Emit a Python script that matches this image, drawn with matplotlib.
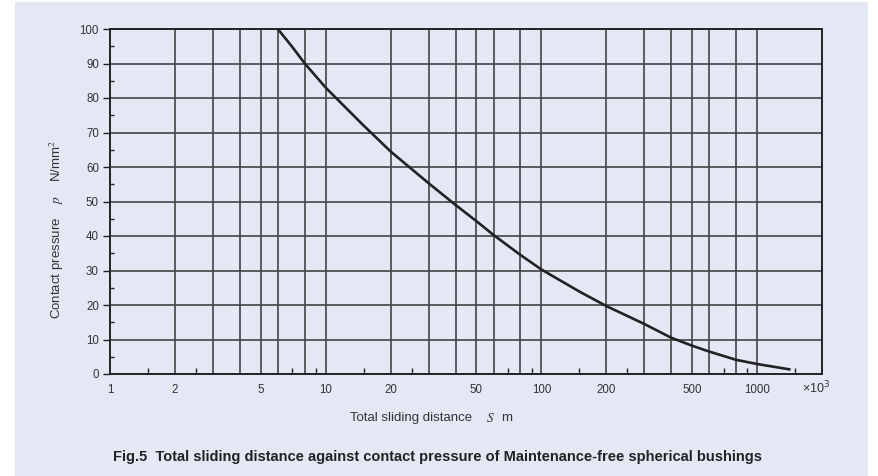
import numpy as np
import matplotlib
matplotlib.use('Agg')
import matplotlib.pyplot as plt
from matplotlib.patches import Rectangle
from matplotlib.ticker import FixedLocator, NullFormatter

plt.rcParams['font.family'] = ['Liberation Sans', 'DejaVu Sans']

# curve (distance x10^3 m, pressure N/mm2)
distance = [6, 7, 8, 10, 15, 20, 30, 40, 50, 60, 80, 100, 150, 200, 300, 400, 500, 600, 800, 1000, 1410]
pressure = [100, 94.8, 90, 83.0, 72.0, 64.5, 55.3, 49.0, 44.3, 40.3, 34.5, 30.3, 23.9, 19.7, 14.5, 10.5, 8.2, 6.5, 4.1, 2.9, 1.35]

x_grid = [2, 3, 4, 5, 6, 8, 10, 20, 30, 40, 50, 60, 80, 100, 200, 300, 400, 500, 600, 800, 1000]
x_minor = [1.5, 2.5, 7, 9, 15, 25, 70, 90, 150, 250, 700, 900, 1500]
x_labels = [1, 2, 5, 10, 20, 50, 100, 200, 500, 1000]
y_major = np.arange(0, 101, 10)
y_minor = np.arange(5, 100, 10)

bg = '#e3e8f4'
ink = '#222222'
txt = '#333333'

fig = plt.figure(figsize=(8.79, 4.76), dpi=100)
fig.patch.set_facecolor('white')
fig.patches.append(Rectangle((15 / 879, 0), 853 / 879, 1 - 2 / 476, transform=fig.transFigure,
                             facecolor=bg, edgecolor='none', zorder=-5))

ax = fig.add_axes([110 / 879, 1 - 374 / 476, 712 / 879, 345 / 476])
ax.set_zorder(2)
ax.set_facecolor(bg)
ax.set_xscale('log')
ax.set_xlim(1, 2000)
ax.set_ylim(0, 100)

for xv in x_grid:
    ax.axvline(xv, color='#444444', lw=1.2, zorder=1)
for yv in y_major[1:]:
    ax.axhline(yv, color='#444444', lw=1.2, zorder=1)

ax.plot(distance, pressure, color=ink, lw=1.9, zorder=3, solid_joinstyle='round')

for s in ax.spines.values():
    s.set_color(ink)
    s.set_linewidth(1.4)

ax.xaxis.set_major_locator(FixedLocator(x_labels))
ax.set_xticklabels([str(v) for v in x_labels])
ax.xaxis.set_minor_locator(FixedLocator(x_minor))
ax.xaxis.set_minor_formatter(NullFormatter())
ax.tick_params(axis='x', which='major', length=0, pad=7, labelsize=8.3, labelcolor=txt)
ax.tick_params(axis='x', which='minor', direction='in', length=4, width=1, color=ink)

ax.set_yticks(y_major)
ax.yaxis.set_minor_locator(FixedLocator(y_minor))
ax.yaxis.set_minor_formatter(NullFormatter())
ax.tick_params(axis='y', which='major', direction='out', length=5, width=1, pad=3,
               labelsize=8.3, labelcolor=txt, color=ink)
ax.tick_params(axis='y', which='minor', direction='in', length=3, width=1, color=ink)

fig.text(816 / 879, 1 - 388 / 476, '×10$^3$', ha='center', va='center', fontsize=9, color=txt)

fig.text(472 / 879, 1 - 418 / 476, 'Total sliding distance', ha='right', va='center',
         fontsize=9.5, color=txt)
fig.text(486 / 879, 1 - 418 / 476, r'$\mathit{S}$', ha='left', va='center',
         fontsize=9.5, color=txt, math_fontfamily='stix')
fig.text(501 / 879, 1 - 418 / 476, 'm', ha='left', va='center', fontsize=9.5, color=txt)

fig.text(57 / 879, 1 - 230 / 476, r'Contact pressure    $\mathit{p}$    N/mm$^2$', rotation=90,
         ha='center', va='center', fontsize=9.5, color=txt, math_fontfamily='stix')

fig.text(438 / 879, 1 - 457 / 476,
         'Fig.5  Total sliding distance against contact pressure of Maintenance-free spherical bushings',
         ha='center', va='center', fontsize=10.5, fontweight='bold', color='#222222')

fig.savefig('out.png', dpi=100, facecolor='white')
